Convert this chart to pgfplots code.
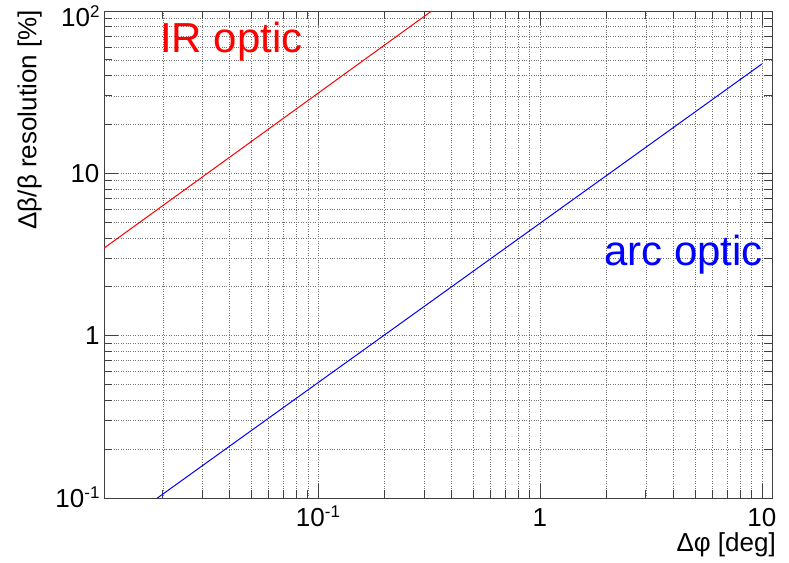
\documentclass[border=0pt]{standalone}
\usepackage{pgfplots}
\pgfplotsset{compat=1.18}
\usepackage{fontspec}
\setmainfont{Liberation Sans}
\newcommand{\sq}[1]{\raisebox{9pt}{\fontsize{17}{17}\selectfont #1}}
\begin{document}
\begin{tikzpicture}
\begin{axis}[
  at={(104pt,64pt)}, anchor=south west,
  width=668pt, height=487pt, scale only axis,
  xmode=log, ymode=log,
  xmin=0.01086, xmax=11.1, ymin=0.1, ymax=100,
  xtick={0.1,1,10}, xticklabels={10\sq{-1},1,10},
  ytick={0.1,1,10,100}, yticklabels={10\sq{-1},1,10,\raisebox{-7pt}{10\sq{2}}},
  minor xtick={0.02,0.03,0.04,0.05,0.06,0.07,0.08,0.09,0.2,0.3,0.4,0.5,0.6,0.7,0.8,0.9,2,3,4,5,6,7,8,9},
  minor ytick={0.2,0.3,0.4,0.5,0.6,0.7,0.8,0.9,2,3,4,5,6,7,8,9,20,30,40,50,60,70,80,90},
  grid=both,
  major grid style={dotted, line width=0.7pt, black!55},
  minor grid style={dotted, line width=0.7pt, black!55},
  tick align=inside,
  major tick length=14pt, minor tick length=8pt,
  tick style={black!75, line width=0.8pt},
  axis line style={black!75, line width=0.8pt},
  ticklabel style={font=\fontsize{26}{26}\selectfont},
  xticklabel style={text height=18pt, text depth=0pt, yshift=-7pt},
  yticklabel style={text height=18pt, text depth=0pt, xshift=-1pt},
  clip=true,
]
\addplot[red, line width=1pt] coordinates {(0.01086,3.46) (0.325,100)};
\addplot[blue, line width=1pt] coordinates {(0.0189,0.1) (10,47.2)};
\end{axis}
\path (current axis.north west) ++(56pt,-41.7pt) node[anchor=base west, inner sep=0pt, text=red, font=\fontsize{42}{42}\selectfont] {IR optic};
\path (current axis.north west) ++(500pt,-254pt) node[anchor=base west, inner sep=0pt, text=blue, font=\fontsize{42}{42}\selectfont] {arc optic};
\pgfresetboundingbox
\useasboundingbox (0,0) rectangle (789pt,562pt);
\node[rotate=90, anchor=south east, inner sep=0pt, font=\fontsize{26}{26}\selectfont] at (42pt,552pt) {Δβ/β resolution [\%]};
\node[anchor=base east, inner sep=0pt, font=\fontsize{26}{26}\selectfont] at (776pt,11pt) {Δφ [deg]};
\end{tikzpicture}
\end{document}
